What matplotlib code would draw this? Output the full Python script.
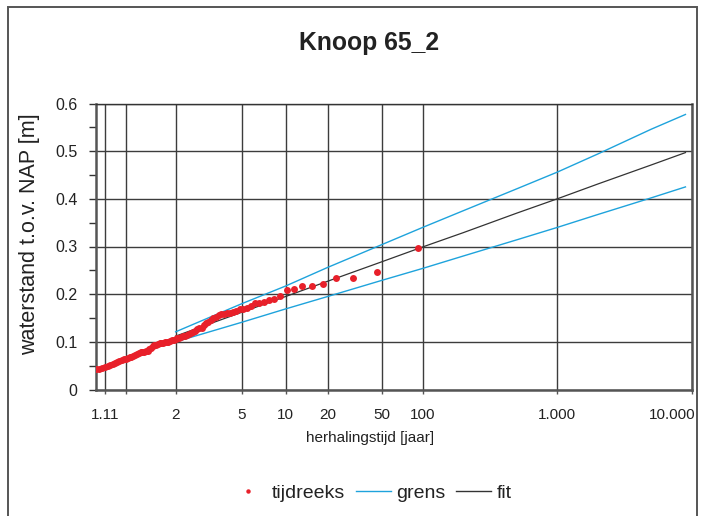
import numpy as np
import matplotlib
matplotlib.use("Agg")
import matplotlib.pyplot as plt
import matplotlib.transforms as mtransforms
from matplotlib.patches import Rectangle
from matplotlib.lines import Line2D

plt.rcParams['font.family'] = ['Liberation Sans', 'DejaVu Sans']

# Annual maximum water levels (m t.o.v. NAP), sorted from highest to lowest
record_length = 91  # years in the series
levels = [
    0.297, 0.246, 0.234, 0.233, 0.221, 0.218, 0.217, 0.211, 0.208, 0.196,
    0.189, 0.188, 0.183, 0.182, 0.181, 0.176, 0.172, 0.169, 0.168, 0.164,
    0.162, 0.161, 0.160, 0.159, 0.158, 0.156, 0.152, 0.149, 0.146, 0.142,
    0.139, 0.135, 0.130, 0.128, 0.126, 0.123, 0.121, 0.119, 0.117, 0.115,
    0.113, 0.112, 0.111, 0.109, 0.107, 0.106, 0.104, 0.103, 0.101, 0.100,
    0.100, 0.099, 0.098, 0.097, 0.097, 0.096, 0.094, 0.093, 0.091, 0.088,
    0.084, 0.081, 0.080, 0.079, 0.079, 0.078, 0.076, 0.075, 0.073, 0.071,
    0.069, 0.068, 0.066, 0.064, 0.063, 0.061, 0.060, 0.058, 0.056, 0.054,
    0.052, 0.050, 0.048, 0.046, 0.044, 0.042, 0.040,
]

# Fitted distribution and its confidence bounds
curve_T = [2, 5, 10, 20, 50, 100, 200, 500, 1000, 2000, 5000, 9000]
fit = [0.112, 0.162, 0.195, 0.227, 0.268, 0.299, 0.329, 0.370, 0.400, 0.431, 0.471, 0.497]
grens_upper = [0.121, 0.180, 0.217, 0.256, 0.304, 0.340, 0.375, 0.421, 0.456, 0.494, 0.546, 0.577]
grens_lower = [0.100, 0.141, 0.169, 0.195, 0.229, 0.254, 0.280, 0.314, 0.340, 0.367, 0.402, 0.425]

x_ticks = [1.11, 1.25, 2, 5, 10, 20, 50, 100, 1000, 10000]
x_ticklabels = ["1.11", "", "2", "5", "10", "20", "50", "100", "1.000", "10.000"]
y_ticks = [0, 0.1, 0.2, 0.3, 0.4, 0.5, 0.6]
y_ticklabels = ["0", "0.1", "0.2", "0.3", "0.4", "0.5", "0.6"]

# Weibull plotting positions
ranks = np.arange(1, len(levels) + 1)
return_period = (record_length + 1) / ranks


def gumbel_forward(T):
    T = np.clip(np.asarray(T, dtype=float), 1.0 + 1e-9, None)
    return -np.log(-np.log(1.0 - 1.0 / T))


def gumbel_inverse(y):
    y = np.asarray(y, dtype=float)
    return 1.0 / (1.0 - np.exp(-np.exp(-y)))


W, H = 704, 516
fig = plt.figure(figsize=(W / 100, H / 100), dpi=100)

# chart frame
fig.patches.append(Rectangle((8 / W, -0.05), (697 - 8) / W, (H - 7) / H + 0.05,
                             transform=fig.transFigure, fill=False,
                             edgecolor='#555555', linewidth=1.4))

ax = fig.add_axes([95.7 / W, (H - 389.5) / H, (691.6 - 95.7) / W, (389.5 - 103.5) / H])
ax.set_xscale('function', functions=(gumbel_forward, gumbel_inverse))
ax.set_xlim(1.07, 10000)
ax.set_ylim(0, 0.6)

grid_col = '#3c3c3c'
for t in x_ticks:
    ax.axvline(t, color=grid_col, lw=1.0, zorder=1)
for v in y_ticks:
    ax.axhline(v, color=grid_col, lw=1.0, zorder=1)

blue = '#1ea3dc'
ax.plot(curve_T, grens_upper, color=blue, lw=1.0, zorder=3)
ax.plot(curve_T, grens_lower, color=blue, lw=1.0, zorder=3)
ax.plot(curve_T, fit, color='#333333', lw=0.9, zorder=3)
ax.plot(return_period, levels, 'o', color='#e8202a', markersize=5.0,
        markeredgewidth=0, zorder=4)

ax.set_xticks(x_ticks)
ax.set_xticklabels(x_ticklabels)
ax.xaxis.set_minor_locator(matplotlib.ticker.NullLocator())
ax.set_yticks(y_ticks)
ax.set_yticklabels(y_ticklabels)
ax.set_yticks(np.arange(0.05, 0.6, 0.1), minor=True)

ax.tick_params(axis='x', which='major', direction='out', length=3, width=1,
               color='#555555', labelsize=11, pad=10, labelcolor='#222222')
ax.tick_params(axis='y', which='both', direction='out', length=5, width=1,
               color='#333333', labelsize=11.5, pad=8, labelcolor='#222222')
labels = ax.get_xticklabels()
labels[-1].set_horizontalalignment('right')
offset = mtransforms.ScaledTranslation(3 / 72, 0, fig.dpi_scale_trans)
labels[-1].set_transform(labels[-1].get_transform() + offset)

for side in ['left', 'bottom', 'right']:
    ax.spines[side].set_color('#555555')
    ax.spines[side].set_linewidth(1.8)
ax.spines['top'].set_color('#333333')
ax.spines['top'].set_linewidth(1.0)

fig.text(369 / W, 1 - 43 / H, "Knoop 65_2", ha='center', va='center',
         fontsize=17.8, fontweight='bold', color='#222222')
fig.text(370 / W, 1 - 438 / H, "herhalingstijd [jaar]", ha='center', va='center',
         fontsize=11, color='#222222')
fig.text(30 / W, 1 - 234 / H, "waterstand t.o.v. NAP [m]", ha='center', va='center',
         rotation=90, fontsize=15.5, color='#222222')

handles = [
    Line2D([], [], marker='o', linestyle='none', color='#e8202a', markersize=3.2,
           markeredgewidth=0),
    Line2D([], [], color=blue, lw=1.0),
    Line2D([], [], color='#333333', lw=1.0),
]
fig.legend(handles, ["tijdreeks", "grens", "fit"], loc='center',
           bbox_to_anchor=(371.5 / W, 1 - 492.7 / H), ncol=3, frameon=False,
           fontsize=14, handlelength=1.8, handletextpad=0.3, columnspacing=0.55,
           labelcolor='#222222')

fig.savefig("out.png", dpi=100)
